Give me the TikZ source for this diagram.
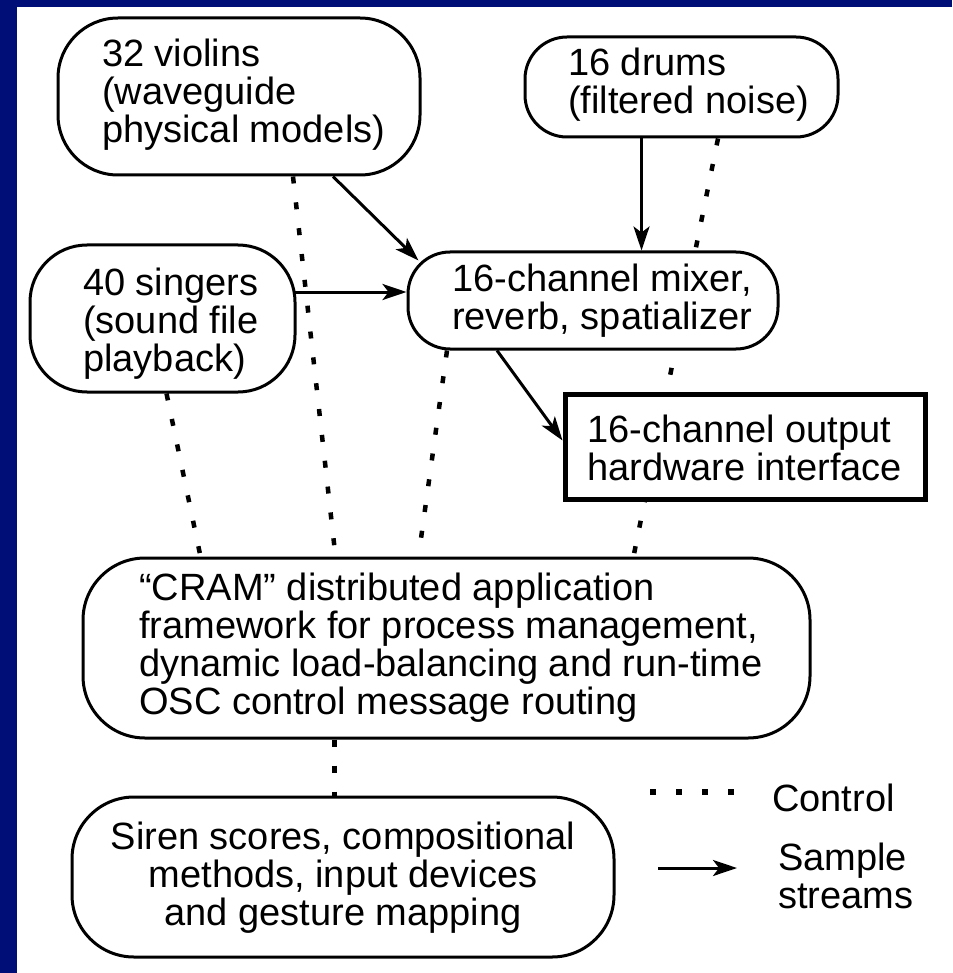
\documentclass[tikz,border=0pt]{standalone}
\usepackage{fontspec}
\setmainfont{Liberation Sans}
\usetikzlibrary{arrows.meta,calc}
\pgfdeclarelayer{bg}
\pgfsetlayers{bg,main}
\definecolor{navyband}{RGB}{0,14,120}
\newcommand\dgfont{\fontsize{38}{38}\selectfont}
\begin{document}
\begin{tikzpicture}[x=1pt,y=-1pt,
  pill/.style={draw,line width=3pt,fill=white,inner sep=0pt},
  lbl/.style={inner sep=0pt,anchor=base west,font=\dgfont,align=left},
  sample/.style={line width=3pt,-{Stealth[length=24pt,width=16pt,inset=6pt]}},
  ctrl/.style={line width=4.5pt,dash pattern=on 7pt off 19pt}]
\useasboundingbox (0,0) rectangle (952,973);

% boxes
\node[pill,rounded corners=60pt,minimum width=362pt,minimum height=157pt] (violins) at (239,96.5) {};
\node[pill,rounded corners=42pt,minimum width=313pt,minimum height=100pt] (drums) at (681.5,87) {};
\node[pill,rounded corners=57pt,minimum width=265pt,minimum height=147pt] (singers) at (162.5,318.5) {};
\node[pill,rounded corners=42pt,minimum width=370pt,minimum height=97pt] (mixer) at (593,300.5) {};
\node[pill,line width=5pt,minimum width=360pt,minimum height=105pt] (output) at (745,446.5) {};
\node[pill,rounded corners=62pt,minimum width=727pt,minimum height=180pt] (cram) at (446.5,648) {};
\node[pill,rounded corners=62pt,minimum width=542pt,minimum height=160pt] (siren) at (343,877) {};

% texts (base anchor = baseline of the last line)
\node[lbl] (violinsT) at (102,143) {32 violins\\(waveguide\\physical models)};
\node[lbl] (drumsT) at (568,114) {16 drums\\(filtered noise)};
\node[lbl] (singersT) at (83,371) {40 singers\\(sound file\\playback)};
\node[lbl] (mixerT) at (452,329) {16-channel mixer,\\reverb, spatializer};
\node[lbl] (outputT) at (587,480) {16-channel output\\hardware interface};
\node[lbl] (cramT) at (139,714) {“CRAM” distributed application\\framework for process management,\\dynamic load-balancing and run-time\\OSC control message routing};
\node[lbl,anchor=base,align=center] (sirenT) at (343,925) {Siren scores, compositional\\methods, input devices\\and gesture mapping};

% sample streams
\draw[sample] ($(violins.south)+(94,0)$) -- ($(mixer.north west)+(12,10)$);
\draw[sample] ($(singers.east)+(-3,-26.5)$) coordinate (sgA) -- (sgA -| mixer.west);
\draw[sample] ($(drums.south)+(-40,0)$) coordinate (drA) -- (drA |- mixer.north);
\draw[sample] ($(mixer.south)+(-96,0)$) -- ($(output.west)+(0,-6)$);

% legend
\coordinate (ctrlA) at (650,792);
\coordinate (ctrlB) at (740,792);
\node[lbl] (ctrlL) at (772,811) {Control};
\coordinate (smpA) at (658,868);
\coordinate (smpB) at (737,868);
\draw[sample] (smpA) -- (smpB);
\node[lbl] (smpL) at (778,908) {Sample\\streams};

\begin{pgfonlayer}{bg}
\fill[navyband] (0,0) rectangle (952,973);
\fill[white] (17,7) rectangle (952,973);
\draw[ctrl] ($(singers.south)+(4,0)$) -- ($(cram.north)+(-246,0)$);
\draw[ctrl] ($(violins.south)+(54,0)$) -- ($(cram.north)+(-111,0)$);
\draw[ctrl] ($(mixer.south)+(-146,0)$) -- ($(cram.north)+(-28,0)$);
\draw[ctrl] ($(drums.south)+(36.5,0)$) -- ($(cram.north)+(187,0)$);
\draw[ctrl] ($(cram.south)+(-112,0)$) coordinate (crA) -- (crA |- siren.north);
\draw[line width=6pt,dash pattern=on 6pt off 20pt] (ctrlA) -- (ctrlB);
\end{pgfonlayer}
\end{tikzpicture}
\end{document}
